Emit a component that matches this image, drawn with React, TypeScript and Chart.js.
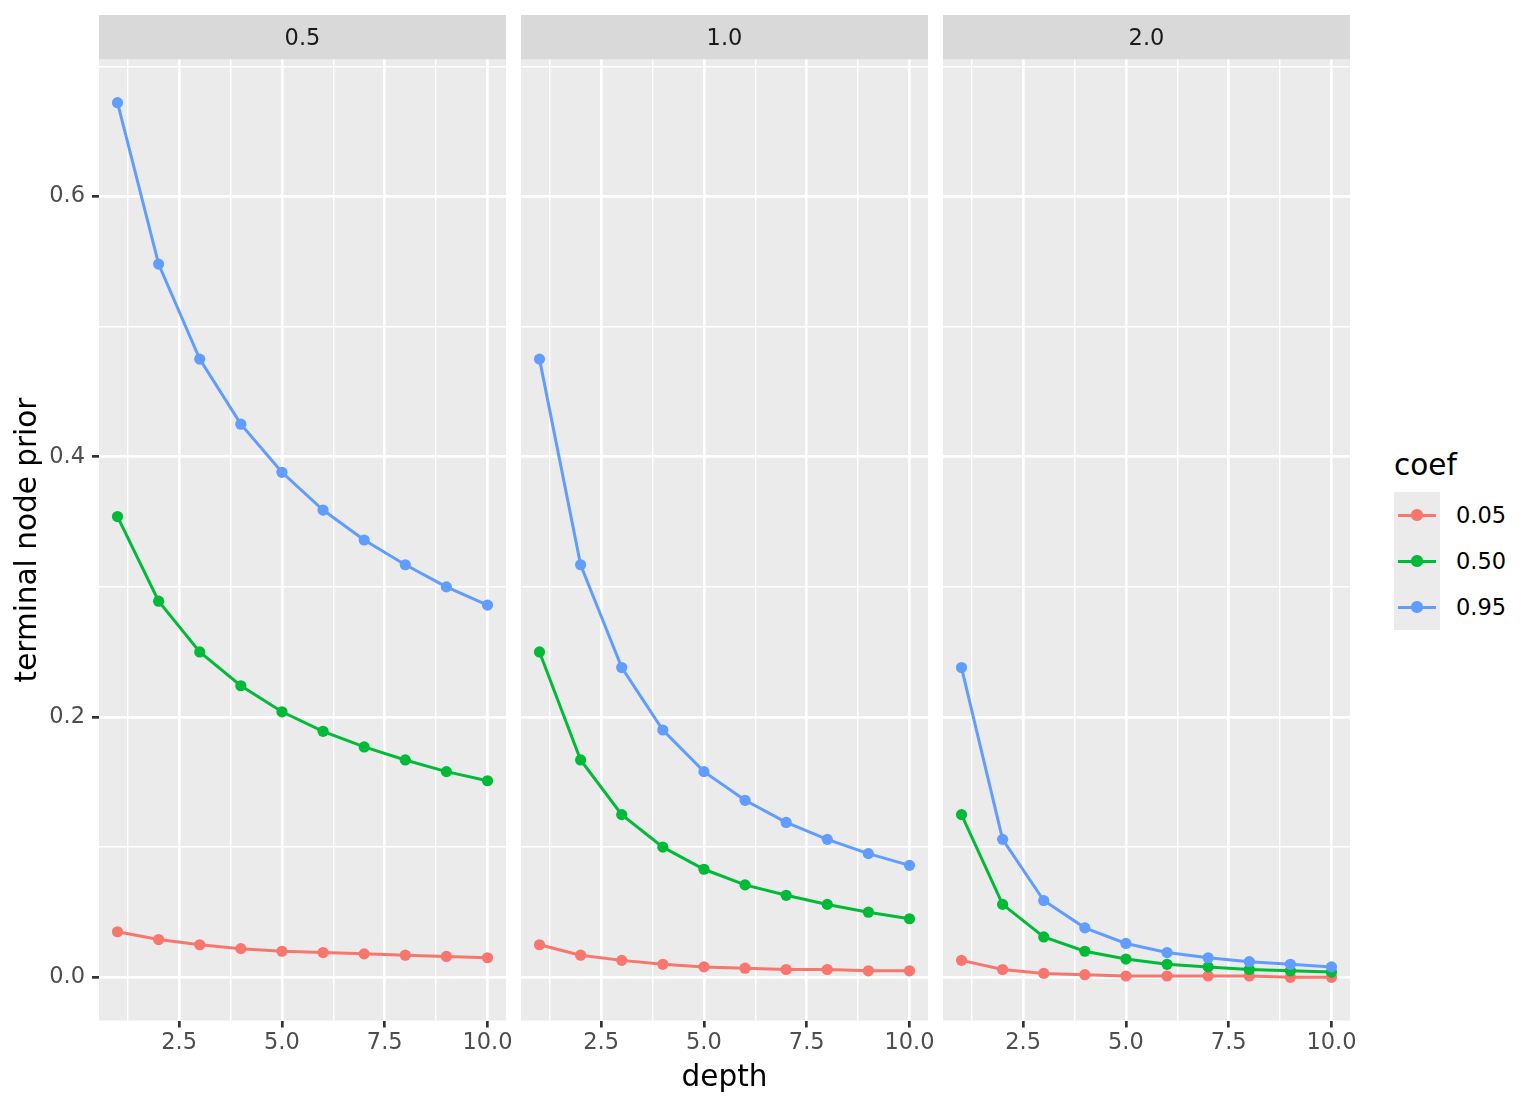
import { useEffect, useRef } from 'react';
import Chart from 'chart.js/auto';

const depths = [1, 2, 3, 4, 5, 6, 7, 8, 9, 10];
const coefLabels = ['0.05', '0.50', '0.95'];
const coefColors = ['#F8766D', '#00BA38', '#619CFF'];
const powerLabels = ['0.5', '1.0', '2.0'];

// power = 0.5
const pow05Coef005 = [0.035, 0.029, 0.025, 0.022, 0.020, 0.019, 0.018, 0.017, 0.016, 0.015];
const pow05Coef050 = [0.354, 0.289, 0.250, 0.224, 0.204, 0.189, 0.177, 0.167, 0.158, 0.151];
const pow05Coef095 = [0.672, 0.548, 0.475, 0.425, 0.388, 0.359, 0.336, 0.317, 0.300, 0.286];
// power = 1.0
const pow10Coef005 = [0.025, 0.017, 0.013, 0.010, 0.008, 0.007, 0.006, 0.006, 0.005, 0.005];
const pow10Coef050 = [0.250, 0.167, 0.125, 0.100, 0.083, 0.071, 0.063, 0.056, 0.050, 0.045];
const pow10Coef095 = [0.475, 0.317, 0.238, 0.190, 0.158, 0.136, 0.119, 0.106, 0.095, 0.086];
// power = 2.0
const pow20Coef005 = [0.013, 0.006, 0.003, 0.002, 0.001, 0.001, 0.001, 0.001, 0.000, 0.000];
const pow20Coef050 = [0.125, 0.056, 0.031, 0.020, 0.014, 0.010, 0.008, 0.006, 0.005, 0.004];
const pow20Coef095 = [0.238, 0.106, 0.059, 0.038, 0.026, 0.019, 0.015, 0.012, 0.010, 0.008];

const panelSeries = [
  [pow05Coef005, pow05Coef050, pow05Coef095],
  [pow10Coef005, pow10Coef050, pow10Coef095],
  [pow20Coef005, pow20Coef050, pow20Coef095],
];

const xMajorTicks = [2.5, 5, 7.5, 10];
const xGridTicks = [1.25, 2.5, 3.75, 5, 6.25, 7.5, 8.75, 10];
const yMajorTicks = [0, 0.2, 0.4, 0.6];
const yGridTicks = [0, 0.1, 0.2, 0.3, 0.4, 0.5, 0.6, 0.7];

const FONT = '"DejaVu Sans", sans-serif';
const PANELS = [
  { left: 99, right: 506 },
  { left: 521, right: 928 },
  { left: 943, right: 1350 },
];
const SIDE_PAD = 30;

const isIn = (list: number[], v: number) => list.some((m) => Math.abs(m - v) < 1e-9);

// grey panel background and facet strip
const panelDeco = {
  id: 'panelDeco',
  beforeDraw(chart: any, _args: any, opts: any) {
    const { ctx, chartArea: a } = chart;
    ctx.save();
    ctx.fillStyle = '#EBEBEB';
    ctx.fillRect(a.left, a.top, a.right - a.left, a.bottom - a.top);
    ctx.fillStyle = '#D9D9D9';
    ctx.fillRect(a.left, 15, a.right - a.left, a.top - 15);
    ctx.fillStyle = '#1A1A1A';
    ctx.font = `22.5px ${FONT}`;
    ctx.textAlign = 'center';
    ctx.textBaseline = 'middle';
    ctx.fillText(opts.label, (a.left + a.right) / 2, 39);
    ctx.restore();
  },
};

const makeConfig = (i: number): any => {
  const series = panelSeries[i];
  const lineSets = series.map((vals, k) => ({
    label: coefLabels[k],
    data: depths.map((d, j) => ({ x: d, y: vals[j] })),
    borderColor: coefColors[k],
    borderWidth: 3,
    pointRadius: 0,
    order: 10 - k,
  }));
  const pointSets = series.map((vals, k) => ({
    label: coefLabels[k] + ' pts',
    data: depths.map((d, j) => ({ x: d, y: vals[j] })),
    showLine: false,
    pointRadius: 5.6,
    pointBorderWidth: 0,
    pointBackgroundColor: coefColors[k],
    order: 3 - k,
  }));
  const first = i === 0;
  return {
    type: 'line',
    data: { datasets: [...lineSets, ...pointSets] },
    options: {
      animation: false,
      responsive: false,
      maintainAspectRatio: false,
      layout: { padding: { top: 59.5, right: SIDE_PAD, left: first ? 0 : SIDE_PAD, bottom: 0 } },
      plugins: {
        legend: { display: false },
        tooltip: { enabled: false },
        panelDeco: { label: powerLabels[i] },
      },
      scales: {
        x: {
          type: 'linear',
          min: 0.55,
          max: 10.45,
          afterBuildTicks: (s: any) => {
            s.ticks = xGridTicks.map((v) => ({ value: v }));
          },
          afterFit: (s: any) => {
            s.height = 83.5;
          },
          border: { display: false },
          grid: {
            color: '#FFFFFF',
            lineWidth: (c: any) => (isIn(xMajorTicks, c.tick?.value) ? 2.7 : 1.4),
            drawTicks: true,
            tickLength: 7,
            tickColor: (c: any) => (isIn(xMajorTicks, c.tick?.value) ? '#333333' : 'rgba(0,0,0,0)'),
            tickWidth: (c: any) => (isIn(xMajorTicks, c.tick?.value) ? 2.7 : 0),
          },
          ticks: {
            autoSkip: false,
            maxRotation: 0,
            padding: 2,
            color: '#4D4D4D',
            font: { family: FONT, size: 22.5 },
            callback: (v: any) => (isIn(xMajorTicks, v) ? Number(v).toFixed(1) : ''),
          },
          title: {
            display: i === 1,
            text: 'depth',
            color: '#000000',
            font: { family: FONT, size: 29.5 },
            padding: { top: 0, bottom: 8 },
          },
        },
        y: {
          type: 'linear',
          min: -0.0332,
          max: 0.7052,
          afterBuildTicks: (s: any) => {
            s.ticks = yGridTicks.map((v) => ({ value: v }));
          },
          afterFit: (s: any) => {
            s.width = first ? PANELS[0].left : 0;
          },
          border: { display: false },
          grid: {
            color: '#FFFFFF',
            lineWidth: (c: any) => (isIn(yMajorTicks, c.tick?.value) ? 2.7 : 1.4),
            drawTicks: first,
            tickLength: 7,
            tickColor: (c: any) => (isIn(yMajorTicks, c.tick?.value) ? '#333333' : 'rgba(0,0,0,0)'),
            tickWidth: (c: any) => (isIn(yMajorTicks, c.tick?.value) ? 2.7 : 0),
          },
          ticks: {
            display: first,
            autoSkip: false,
            padding: 7,
            color: '#4D4D4D',
            font: { family: FONT, size: 22.5 },
            callback: (v: any) => (isIn(yMajorTicks, v) ? Number(v).toFixed(1) : ''),
          },
          title: {
            display: first,
            text: 'terminal node prior',
            color: '#000000',
            font: { family: FONT, size: 29.5 },
            padding: { top: 10.5, bottom: 0 },
          },
        },
      },
    },
    plugins: [panelDeco],
  };
};

const App = () => {
  const canvasRefs = useRef<(HTMLCanvasElement | null)[]>([]);
  const charts = useRef<Chart[]>([]);

  useEffect(() => {
    charts.current.forEach((c) => c.destroy());
    charts.current = [];
    canvasRefs.current.forEach((cv, i) => {
      if (!cv) return;
      const ctx = cv.getContext('2d');
      if (!ctx) return;
      charts.current.push(new Chart(ctx, makeConfig(i)));
    });
    return () => {
      charts.current.forEach((c) => c.destroy());
      charts.current = [];
    };
  }, []);

  return (
    <div
      style={{
        position: 'absolute',
        left: 0,
        top: 0,
        width: 1536,
        height: 1104,
        background: '#FFFFFF',
        fontFamily: FONT,
      }}
    >
      {PANELS.map((p, i) => {
        const left = i === 0 ? 0 : p.left - SIDE_PAD;
        const width = p.right + SIDE_PAD - left;
        return (
          <canvas
            key={i}
            ref={(el) => {
              canvasRefs.current[i] = el;
            }}
            width={width}
            height={1104}
            style={{ position: 'absolute', left, top: 0, width, height: 1104 }}
          />
        );
      })}

      {/* legend */}
      <div style={{ position: 'absolute', left: 1394, top: 447, fontSize: 29.5, lineHeight: '36px', color: '#000' }}>
        coef
      </div>
      <div style={{ position: 'absolute', left: 1394, top: 492, width: 46, height: 138, background: '#EBEBEB' }} />
      {coefLabels.map((lab, k) => {
        const cy = 515 + 46 * k;
        return (
          <div key={lab}>
            <div
              style={{
                position: 'absolute',
                left: 1398,
                top: cy - 1.5,
                width: 38,
                height: 3,
                background: coefColors[k],
              }}
            />
            <div
              style={{
                position: 'absolute',
                left: 1417 - 5.6,
                top: cy - 5.6,
                width: 11.2,
                height: 11.2,
                borderRadius: '50%',
                background: coefColors[k],
              }}
            />
            <div
              style={{
                position: 'absolute',
                left: 1456,
                top: cy - 13,
                fontSize: 22.5,
                lineHeight: '26px',
                color: '#000',
              }}
            >
              {lab}
            </div>
          </div>
        );
      })}
    </div>
  );
};

export default App;
